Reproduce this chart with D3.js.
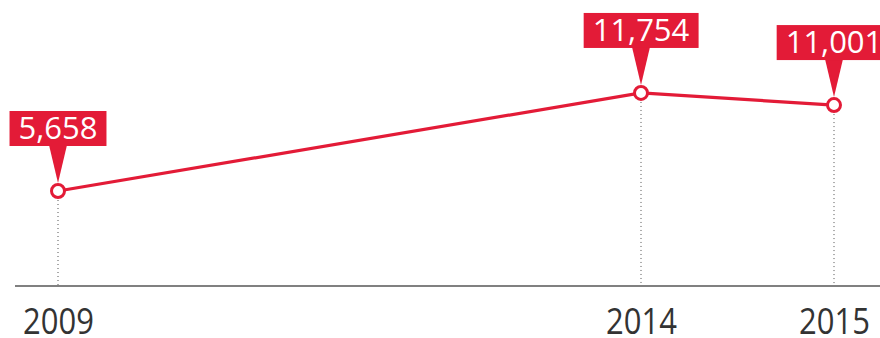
<!DOCTYPE html>
<html>
<head>
<meta charset="utf-8">
<script src="https://cdn.jsdelivr.net/npm/d3@7"></script>
<style>
  body { margin: 0; background: #fff; }
  svg { display: block; font-family: "Open Sans", sans-serif; }
</style>
</head>
<body>
<div id="chart"></div>
<script>
// visitors by year
var years = [2009, 2014, 2015];
var values = [5658, 11754, 11001];
var tickLabels = ["2009", "2014", "2015"];

var width = 880,
    height = 338;

var red = "#e31b37";

var svg = d3.select("#chart").append("svg")
    .attr("width", width)
    .attr("height", height);

// the years are not spaced evenly in the original, so a piecewise scale
var x = d3.scaleLinear()
    .domain([2009, 2014, 2015])
    .range([58, 641, 834]);

var y = d3.scaleLinear()
    .domain([0, 12000])
    .range([282, 89]);

var data = years.map(function(d, i) {
  return { year: d, value: values[i], label: tickLabels[i] };
});

// baseline
svg.append("line")
    .attr("x1", 15)
    .attr("x2", width)
    .attr("y1", 286)
    .attr("y2", 286)
    .style("stroke", "#808080")
    .style("stroke-width", 2);

// dotted drop lines
svg.selectAll(".drop")
    .data(data)
    .enter().append("line")
    .attr("class", "drop")
    .attr("x1", function(d) { return x(d.year); })
    .attr("x2", function(d) { return x(d.year); })
    .attr("y1", function(d) { return y(d.value) + 9; })
    .attr("y2", 285)
    .style("stroke", "#555")
    .style("stroke-width", 1)
    .style("stroke-dasharray", "1,3");

// x axis labels
var axis = d3.axisBottom(x)
    .tickValues(years)
    .tickFormat(function(d, i) { return tickLabels[i]; })
    .tickSize(0);

var gx = svg.append("g")
    .attr("transform", "translate(0,286)")
    .call(axis);
gx.select(".domain").remove();
gx.selectAll("text")
    .attr("y", 48)
    .attr("dy", 0)
    .style("font-family", "'Open Sans', sans-serif")
    .style("font-size", "36px")
    .style("fill", "#333")
    .each(function() {
      // the year labels are narrower than plain Open Sans
      var w = this.getComputedTextLength();
      d3.select(this)
        .attr("textLength", w * 0.86)
        .attr("lengthAdjust", "spacingAndGlyphs");
    });

// line
var line = d3.line()
    .x(function(d) { return x(d.year); })
    .y(function(d) { return y(d.value); });

svg.append("path")
    .datum(data)
    .attr("d", line)
    .attr("fill", "none")
    .style("stroke", red)
    .style("stroke-width", 3.2);

// callout pointers
svg.selectAll(".pointer")
    .data(data)
    .enter().append("path")
    .attr("class", "pointer")
    .attr("d", function(d) {
      var cx = x(d.year), cy = y(d.value);
      return "M" + (cx - 9) + "," + (cy - 46) +
             "L" + (cx + 9) + "," + (cy - 46) +
             "L" + cx + "," + (cy - 8) + "Z";
    })
    .style("fill", red);

// callout boxes with the values
var fmt = d3.format(",");
var labels = svg.selectAll(".callout")
    .data(data)
    .enter().append("g")
    .attr("class", "callout")
    .attr("transform", function(d) {
      return "translate(" + x(d.year) + "," + (y(d.value) - 80) + ")";
    });

labels.append("text")
    .attr("text-anchor", "middle")
    .attr("y", 28)
    .style("font-size", "31px")
    .style("fill", "#fff")
    .text(function(d) { return fmt(d.value); });

labels.insert("rect", "text")
    .each(function() {
      var bb = this.parentNode.querySelector("text").getBBox();
      d3.select(this)
        .attr("x", bb.x - 9)
        .attr("width", bb.width + 18)
        .attr("y", 0)
        .attr("height", 35);
    })
    .style("fill", red);

// points
svg.selectAll(".pt")
    .data(data)
    .enter().append("circle")
    .attr("class", "pt")
    .attr("cx", function(d) { return x(d.year); })
    .attr("cy", function(d) { return y(d.value); })
    .attr("r", 6.5)
    .style("fill", "#fff")
    .style("stroke", red)
    .style("stroke-width", 3);
</script>
</body>
</html>
